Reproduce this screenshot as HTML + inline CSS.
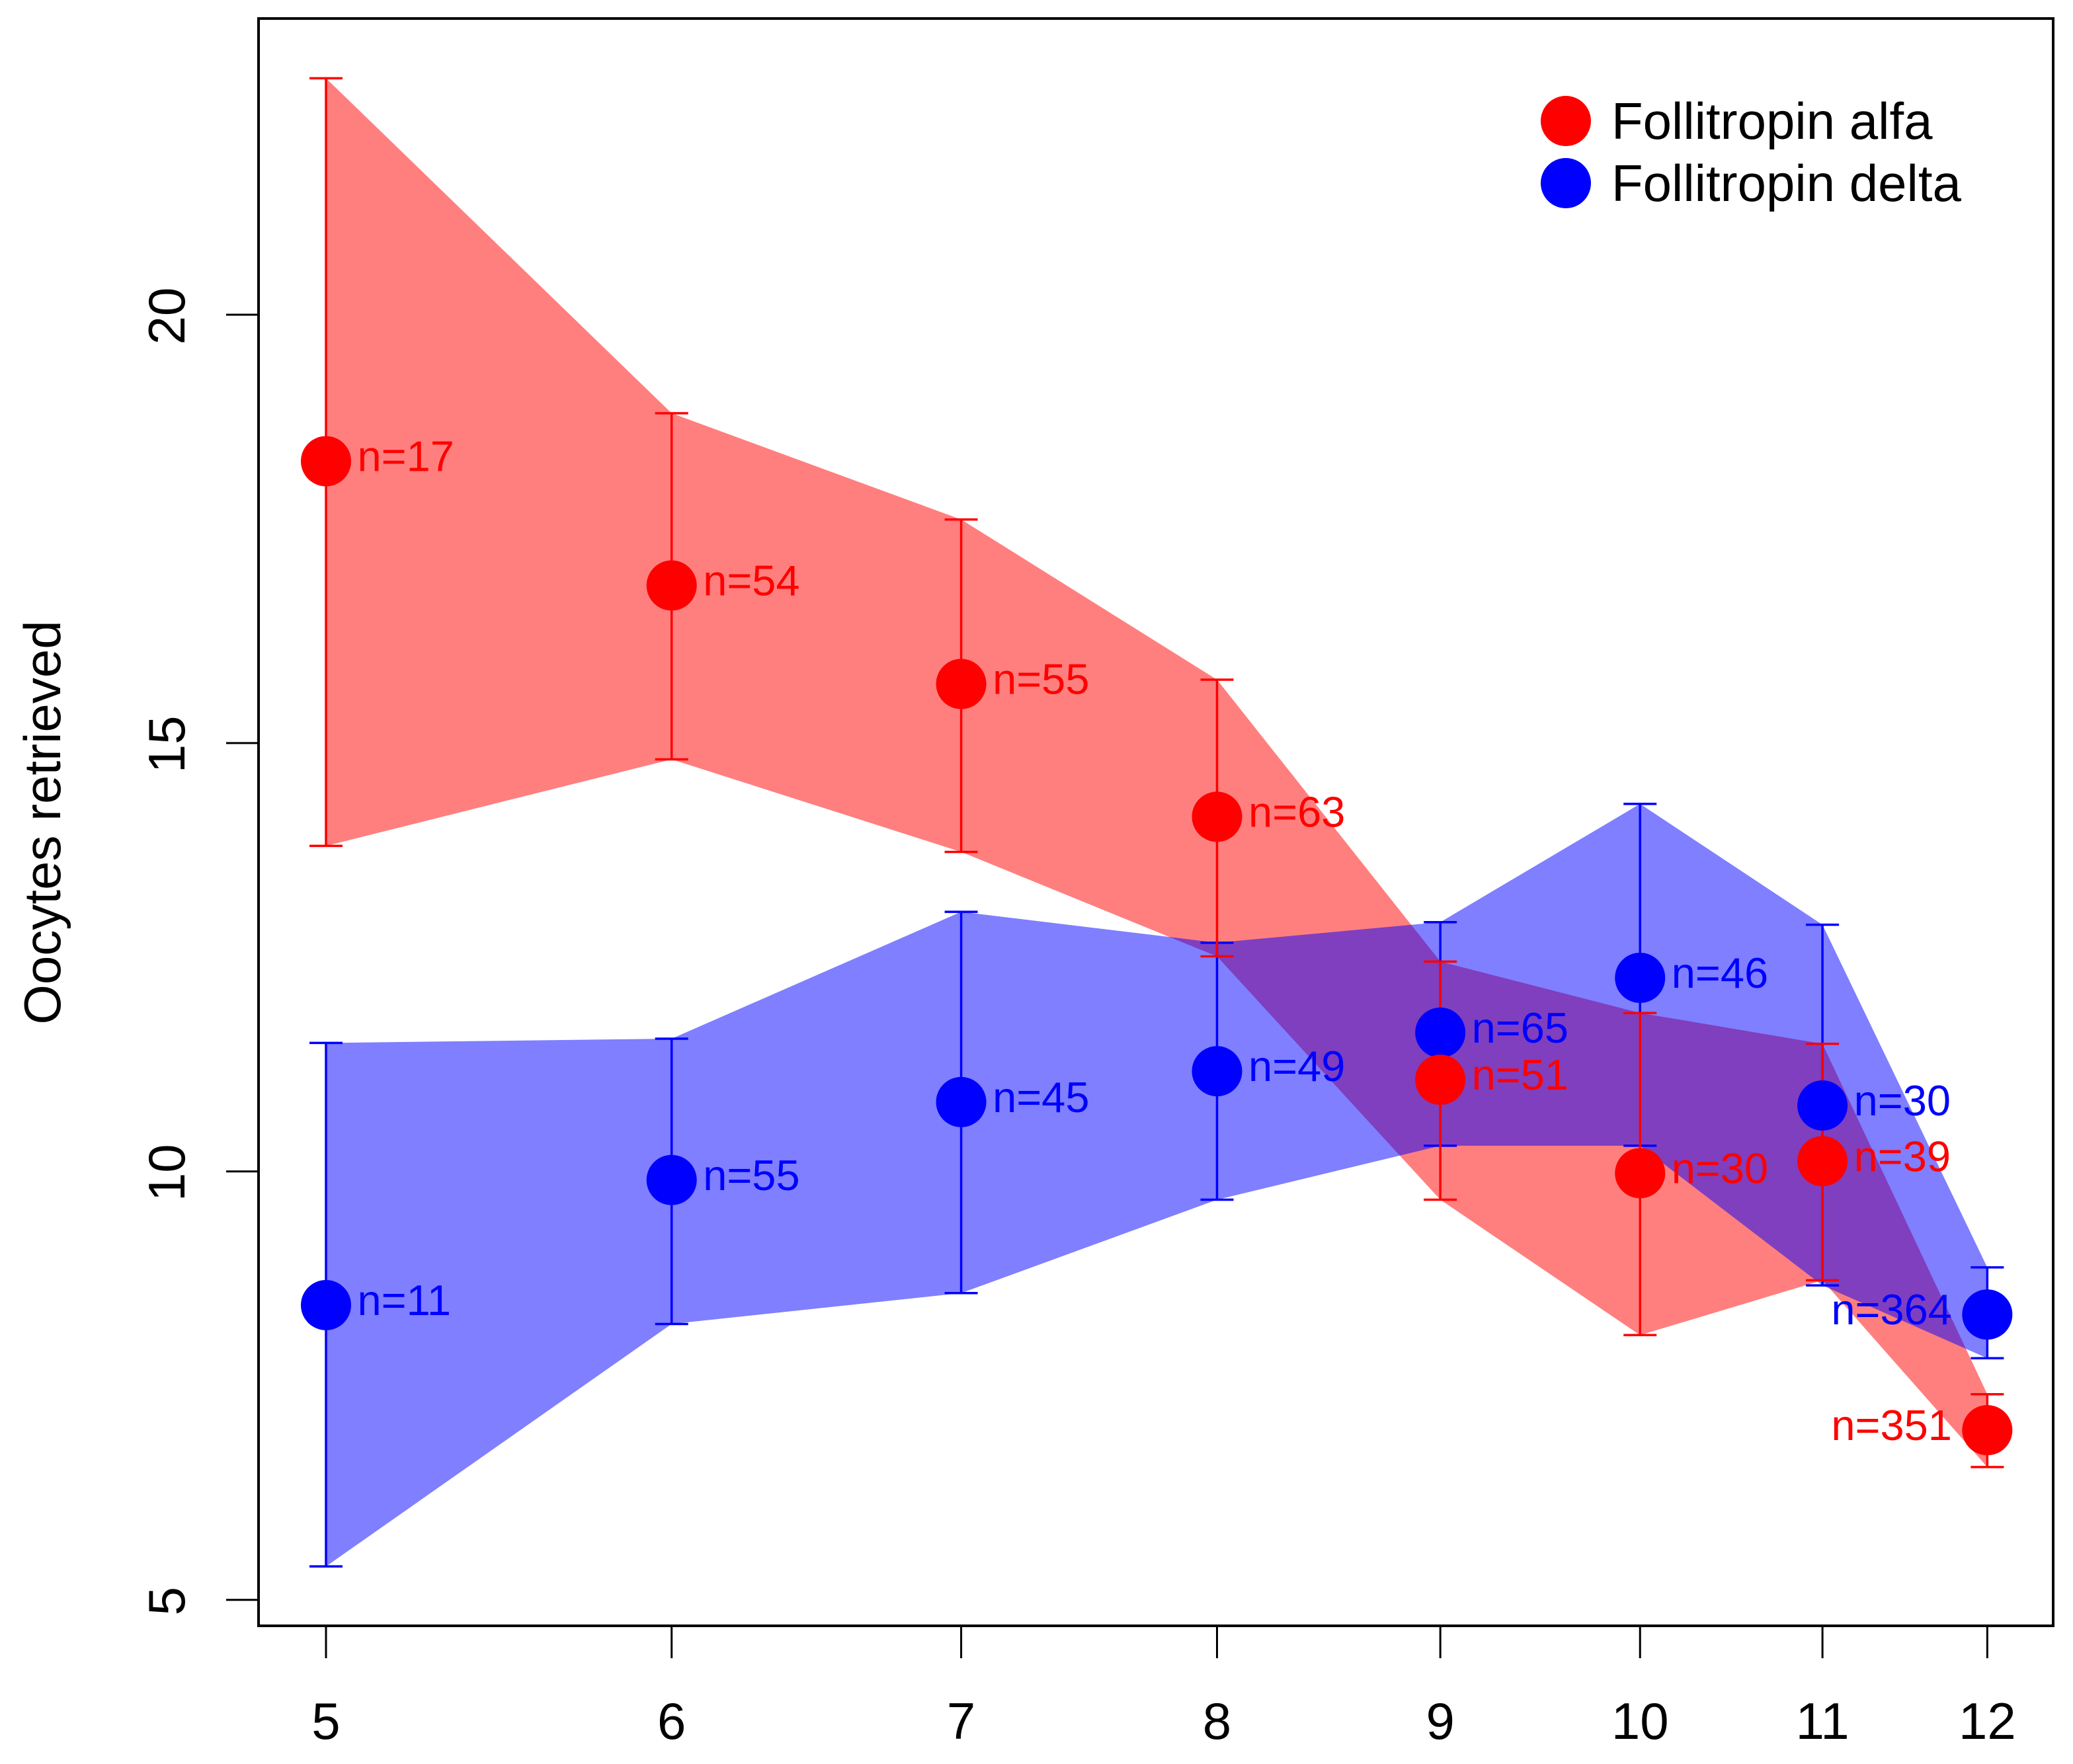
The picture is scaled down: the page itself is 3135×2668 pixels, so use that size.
<!DOCTYPE html>
<html lang="en">
<head>
<meta charset="utf-8">
<title>Oocytes retrieved by follitropin type</title>
<style>
  html, body { margin: 0; padding: 0; background: #ffffff; }
  svg { display: block; font-family: "Liberation Sans", Arial, sans-serif; }
</style>
</head>
<body>
<svg id="chart" xmlns="http://www.w3.org/2000/svg" width="3135" height="2668" viewBox="0 0 3135 2668">
  <g id="ribbons"></g>
  <g id="bars"></g>
  <g id="points"></g>
  <g id="labels"></g>
  <rect x="391" y="28" width="2714" height="2431" fill="none" stroke="#000" stroke-width="4"/>
  <g id="axes"></g>
  <text transform="translate(91,1244) rotate(-90)" text-anchor="middle" font-size="78" fill="#000">Oocytes retrieved</text>
  <g>
    <circle cx="2368" cy="183" r="38" fill="#ff0000"/>
    <text x="2437" y="210" font-size="78" fill="#000">Follitropin alfa</text>
    <circle cx="2368" cy="277" r="38" fill="#0000ff"/>
    <text x="2437" y="304" font-size="78" fill="#000">Follitropin delta</text>
  </g>
</svg>
<script>
// Data
var xTickLabels = ['5', '6', '7', '8', '9', '10', '11', '12'];
var xValues = [5, 6, 6.99, 8, 9, 10, 11.01, 12.01];
var yTicks = [5, 10, 15, 20];

var alfaMean = [18.29, 16.84, 15.69, 14.14, 11.07, 9.98, 10.12, 6.98];
var alfaUpper = [22.76, 18.85, 17.61, 15.74, 12.45, 11.85, 11.49, 7.40];
var alfaLower = [13.80, 14.81, 13.73, 12.51, 9.67, 8.09, 8.73, 6.55];
var alfaCounts = [17, 54, 55, 63, 51, 30, 39, 351];

var deltaMean = [8.44, 9.90, 10.81, 11.17, 11.62, 12.26, 10.77, 8.33];
var deltaUpper = [11.50, 11.55, 13.03, 12.67, 12.91, 14.29, 12.88, 8.88];
var deltaLower = [5.39, 8.22, 8.58, 9.67, 10.30, 10.30, 8.67, 7.82];
var deltaCounts = [11, 55, 45, 49, 65, 46, 30, 364];

// Axis functions
function xScale(v) { return 493 + 2867 * Math.log(v / 5); }
function yScale(v) { return 2419.7 - 129.58 * (v - 5); }

var NS = 'http://www.w3.org/2000/svg';
function make(tag, parent, props, text) {
  var el = document.createElementNS(NS, tag);
  for (var k in props) { el.setAttribute(k, props[k]); }
  if (text !== undefined) { el.textContent = text; }
  parent.appendChild(el);
  return el;
}

var ribbons = document.getElementById('ribbons');
var bars = document.getElementById('bars');
var points = document.getElementById('points');
var labels = document.getElementById('labels');
var axes = document.getElementById('axes');

function drawRibbon(upper, lower, color, name) {
  var pts = [];
  upper.forEach(function (v, i) { pts.push(xScale(xValues[i]) + ',' + yScale(v)); });
  for (var i = lower.length - 1; i >= 0; i--) { pts.push(xScale(xValues[i]) + ',' + yScale(lower[i])); }
  var el = make('polygon', ribbons, { points: pts.join(' '), fill: color, 'fill-opacity': 0.5 });
  
  
}

function drawBars(upper, lower, color, name) {
  xValues.forEach(function (xv, i) {
    var x = xScale(xv), yU = yScale(upper[i]), yL = yScale(lower[i]);
    var stem = make('line', bars, { x1: x, x2: x, y1: yU, y2: yL, stroke: color, 'stroke-width': 3.5 });
    
    
    var capU = make('line', bars, { x1: x - 25, x2: x + 25, y1: yU, y2: yU, stroke: color, 'stroke-width': 3.5 });
    
    
    var capL = make('line', bars, { x1: x - 25, x2: x + 25, y1: yL, y2: yL, stroke: color, 'stroke-width': 3.5 });
    
    
  });
}

function drawPoints(means, counts, color, name) {
  xValues.forEach(function (xv, i) {
    var x = xScale(xv), y = yScale(means[i]);
    var dot = make('circle', points, { cx: x, cy: y, r: 38, fill: color });
    
    
    // The last dose level puts its label to the left of the point
    var lx = i === xValues.length - 1 ? x - 236 : x + 47.5;
    var label = make('text', labels, { x: lx, y: y + 15, 'font-size': 65, fill: color }, 'n=' + counts[i]);
    
    
  });
}

drawRibbon(alfaUpper, alfaLower, '#ff0000', 'alfa-ribbon');
drawRibbon(deltaUpper, deltaLower, '#0000ff', 'delta-ribbon');
drawBars(deltaUpper, deltaLower, '#0000ff', 'delta-error-bar');
drawBars(alfaUpper, alfaLower, '#ff0000', 'alfa-error-bar');
drawPoints(deltaMean, deltaCounts, '#0000ff', 'delta');
drawPoints(alfaMean, alfaCounts, '#ff0000', 'alfa');

xValues.forEach(function (xv, i) {
  var x = xScale(xv);
  var tick = make('line', axes, { x1: x, x2: x, y1: 2459, y2: 2508, stroke: '#000', 'stroke-width': 3 });
  
  
  var lab = make('text', axes, { x: x, y: 2630, 'text-anchor': 'middle', 'font-size': 78, fill: '#000' }, xTickLabels[i]);
  
  
});

yTicks.forEach(function (v) {
  var y = yScale(v);
  var tick = make('line', axes, { x1: 342, x2: 391, y1: y, y2: y, stroke: '#000', 'stroke-width': 3 });
  
  
  var lab = make('text', axes, { transform: 'translate(279,' + (y + 2) + ') rotate(-90)', 'text-anchor': 'middle', 'font-size': 78, fill: '#000' }, String(v));
  
  
});
</script>
</body>
</html>
